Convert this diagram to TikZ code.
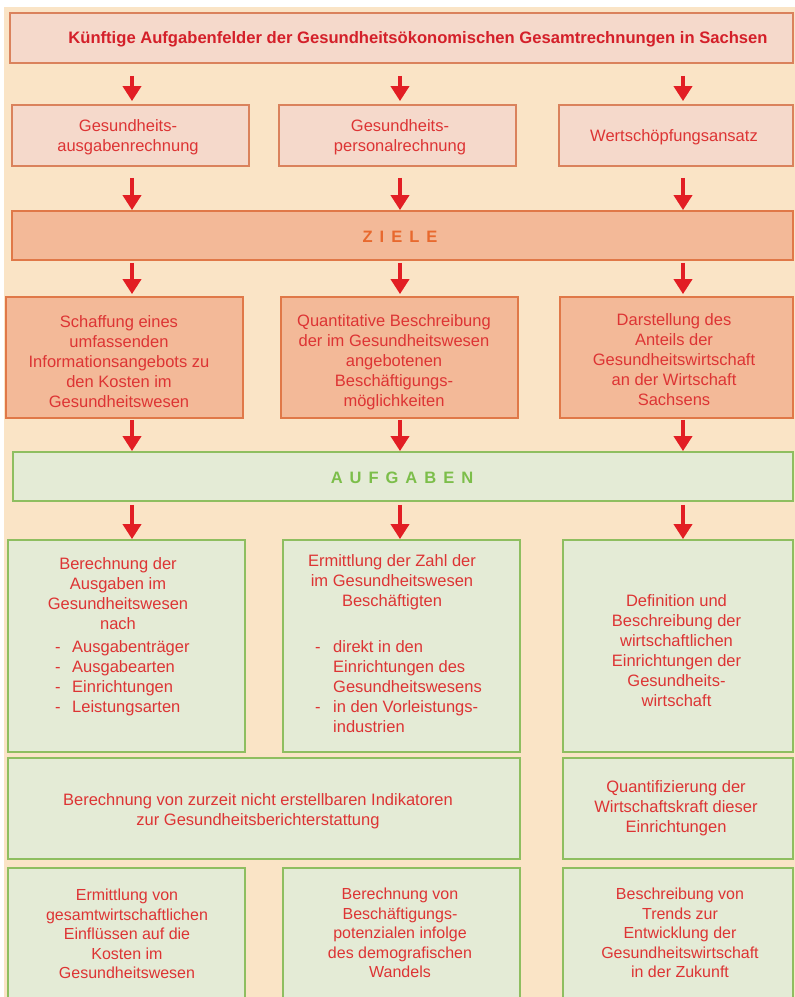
\documentclass[tikz,border=0pt]{standalone}
\usepackage{fontspec}
\setmainfont{Liberation Sans}
\usetikzlibrary{arrows.meta}
\definecolor{bgbeige}{RGB}{250,228,198}
\definecolor{pinkfill}{RGB}{245,217,203}
\definecolor{pinkline}{RGB}{218,130,92}
\definecolor{orangefill}{RGB}{243,185,152}
\definecolor{orangeline}{RGB}{224,120,72}
\definecolor{zieletext}{RGB}{232,105,46}
\definecolor{greenfill}{RGB}{228,235,214}
\definecolor{greenline}{RGB}{142,190,96}
\definecolor{aufgabentext}{RGB}{124,190,74}
\definecolor{textred}{RGB}{221,52,52}
\definecolor{titlered}{RGB}{212,32,42}
\definecolor{arrowred}{RGB}{226,30,36}
\begin{document}
\begin{tikzpicture}[x=1pt,y=-1pt,
 box/.style={inner sep=0pt, line width=1.8pt},
 pinkbox/.style={box, draw=pinkline, fill=pinkfill},
 orangebox/.style={box, draw=orangeline, fill=orangefill},
 greenbox/.style={box, draw=greenline, fill=greenfill},
 txt/.style={inner sep=0pt, align=center, text=textred, font=\fontsize{16.5}{20}\selectfont},
 smalltxt/.style={txt, font=\fontsize{16}{19.5}\selectfont},
 bartxt/.style={inner sep=0pt, font=\bfseries\fontsize{16.5}{20}\selectfont},
 flow/.style={draw=arrowred, line width=4.5pt, -{Triangle[width=18pt,length=15pt]}},
]
\useasboundingbox (0,0) rectangle (795,997);
\fill[white] (0,0) rectangle (795,997);
\fill[bgbeige] (4,7) rectangle (795,997);

% column coordinates for arrows
\coordinate (k1) at (132,0);
\coordinate (k2) at (400,0);
\coordinate (k3) at (683,0);

% title
\node[pinkbox, minimum width=783pt, minimum height=50pt] (title) at (401.5,38) {};
\node[txt, text=titlered, font=\bfseries\fontsize{16.6}{20}\selectfont] (titletext) at (418,39)
 {Künftige Aufgabenfelder der Gesundheitsökonomischen Gesamtrechnungen in Sachsen};

% row 2
\node[pinkbox, minimum width=237pt, minimum height=61pt] (ga) at (130.5,135.5) {};
\node[pinkbox, minimum width=237pt, minimum height=61pt] (gp) at (397.5,135.5) {};
\node[pinkbox, minimum width=234pt, minimum height=61pt] (ws) at (676,135.5) {};
\node[txt] (gatext) at (128,137) {Gesundheits-\\ausgabenrechnung};
\node[txt] (gptext) at (400,137) {Gesundheits-\\personalrechnung};
\node[txt] (wstext) at (674,137) {Wertschöpfungsansatz};

% ZIELE bar
\node[orangebox, minimum width=781pt, minimum height=49pt] (ziele) at (402.5,235.5) {};
\node[bartxt, text=zieletext] (zieletitle) at (400,237)
 {Z\hskip7pt I\hskip7pt E\hskip7pt L\hskip7pt E};

% Ziele boxes
\node[orangebox, minimum width=237pt, minimum height=121pt] (za) at (124.5,357.5) {};
\node[orangebox, minimum width=237pt, minimum height=121pt] (zb) at (399.5,357.5) {};
\node[orangebox, minimum width=233pt, minimum height=121pt] (zc) at (676.5,357.5) {};
\node[txt] (zatext) at (119,362) {Schaffung eines\\umfassenden\\Informationsangebots zu\\den Kosten im\\Gesundheitswesen};
\node[txt] (zbtext) at (394,362) {Quantitative Beschreibung\\der im Gesundheitswesen\\angebotenen\\Beschäftigungs-\\möglichkeiten};
\node[txt] (zctext) at (674,360) {Darstellung des\\Anteils der\\Gesundheitswirtschaft\\an der Wirtschaft\\Sachsens};

% AUFGABEN bar
\node[greenbox, minimum width=780pt, minimum height=49pt] (aufg) at (403,476.5) {};
\node[bartxt, text=aufgabentext] (aufgtitle) at (402,478)
 {A\hskip7pt U\hskip7pt F\hskip7pt G\hskip7pt A\hskip7pt B\hskip7pt E\hskip7pt N};

% green row 1
\node[greenbox, minimum width=237pt, minimum height=212pt] (ra) at (126.5,646) {};
\node[greenbox, minimum width=237pt, minimum height=212pt] (rb) at (401.5,646) {};
\node[greenbox, minimum width=230pt, minimum height=212pt] (rc) at (678,646) {};
\node[txt] (ratext) at (118,594) {Berechnung der\\Ausgaben im\\Gesundheitswesen\\nach};
\node[txt, anchor=west] (ralist) at (55,678)
 {\begin{tabular}{@{}l@{\hspace{11.5pt}}l@{}}
 -&Ausgabenträger\\ -&Ausgabearten\\ -&Einrichtungen\\ -&Leistungsarten
 \end{tabular}};
\node[txt] (rbtext) at (392,582) {Ermittlung der Zahl der\\im Gesundheitswesen\\Beschäftigten};
\node[txt, anchor=west] (rblist) at (315,688)
 {\begin{tabular}{@{}l@{\hspace{12.5pt}}l@{}}
 -&direkt in den\\ &Einrichtungen des\\ &Gesundheitswesens\\ -&in den Vorleistungs-\\ &industrien
 \end{tabular}};
\node[txt] (rctext) at (676.5,651) {Definition und\\Beschreibung der\\wirtschaftlichen\\Einrichtungen der\\Gesundheits-\\wirtschaft};

% green row 2
\node[greenbox, minimum width=512pt, minimum height=101pt] (sa) at (264,808.5) {};
\node[greenbox, minimum width=230pt, minimum height=101pt] (sb) at (678,808.5) {};
\node[txt] (satext) at (258,811) {Berechnung von zurzeit nicht erstellbaren Indikatoren\\zur Gesundheitsberichterstattung};
\node[txt] (sbtext) at (676,808) {Quantifizierung der\\Wirtschaftskraft dieser\\Einrichtungen};

% green row 3
\node[greenbox, minimum width=237pt, minimum height=132pt] (ta) at (126.5,934) {};
\node[greenbox, minimum width=237pt, minimum height=132pt] (tb) at (401.5,934) {};
\node[greenbox, minimum width=230pt, minimum height=132pt] (tc) at (678,934) {};
\node[smalltxt] (tatext) at (127,934) {Ermittlung von\\gesamtwirtschaftlichen\\Einflüssen auf die\\Kosten im\\Gesundheitswesen};
\node[smalltxt] (tbtext) at (400,933) {Berechnung von\\Beschäftigungs-\\potenzialen infolge\\des demografischen\\Wandels};
\node[smalltxt] (tctext) at (680,933) {Beschreibung von\\Trends zur\\Entwicklung der\\Gesundheitswirtschaft\\in der Zukunft};

% arrows
\draw[flow, shorten <=12pt, shorten >=3pt] (title.south -| k1) -- (ga.north -| k1);
\draw[flow, shorten <=12pt, shorten >=3pt] (title.south -| k2) -- (gp.north -| k2);
\draw[flow, shorten <=12pt, shorten >=3pt] (title.south -| k3) -- (ws.north -| k3);
\draw[flow, shorten <=11pt] (ga.south -| k1) -- (ziele.north -| k1);
\draw[flow, shorten <=11pt] (gp.south -| k2) -- (ziele.north -| k2);
\draw[flow, shorten <=11pt] (ws.south -| k3) -- (ziele.north -| k3);
\draw[flow, shorten <=2pt, shorten >=2pt] (ziele.south -| k1) -- (za.north -| k1);
\draw[flow, shorten <=2pt, shorten >=2pt] (ziele.south -| k2) -- (zb.north -| k2);
\draw[flow, shorten <=2pt, shorten >=2pt] (ziele.south -| k3) -- (zc.north -| k3);
\draw[flow, shorten <=1pt] (za.south -| k1) -- (aufg.north -| k1);
\draw[flow, shorten <=1pt] (zb.south -| k2) -- (aufg.north -| k2);
\draw[flow, shorten <=1pt] (zc.south -| k3) -- (aufg.north -| k3);
\draw[flow, shorten <=3pt] (aufg.south -| k1) -- (ra.north -| k1);
\draw[flow, shorten <=3pt] (aufg.south -| k2) -- (rb.north -| k2);
\draw[flow, shorten <=3pt] (aufg.south -| k3) -- (rc.north -| k3);
\end{tikzpicture}
\end{document}
